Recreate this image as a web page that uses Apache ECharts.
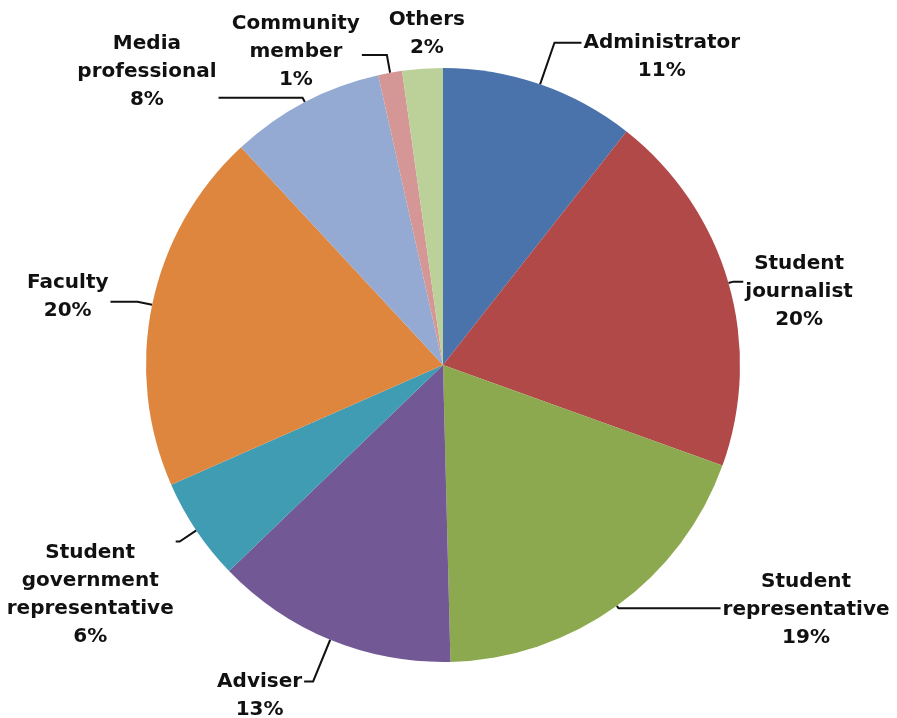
<!DOCTYPE html>
<html>
<head>
<meta charset="utf-8">
<script src="https://cdn.jsdelivr.net/npm/echarts@6/dist/echarts.min.js"></script>
<style>
  html, body { margin: 0; padding: 0; background: #fff; }
  #chart { width: 897px; height: 718px; }
</style>
</head>
<body>
<div id="chart"></div>
<script>
// ---- data ----
const categories = [
  'Administrator',
  'Student\njournalist',
  'Student\nrepresentative',
  'Adviser',
  'Student\ngovernment\nrepresentative',
  'Faculty',
  'Media\nprofessional',
  'Community\nmember',
  'Others'
];
const shares = [10.6, 19.9, 19.1, 13.2, 5.6, 19.7, 8.4, 1.3, 2.2];

// ---- styling (not data) ----
const colors = ['#4A73AC', '#B04947', '#8CA94F', '#725895', '#3F9CB3', '#DE853E', '#94AAD2', '#D49795', '#BBD199'];
// label line lengths and vertical padding per slice
const lineLen  = [44, 5, 3, 45, 20, 15, 5, 18, 37];
const lineLen2 = [27, 10, 102, 9, 4, 27, 84, 25, -47];
const padTop   = [28, 21, 3, 29, 106, 0, 0, 0, 4];
const padBot   = [0, 0, 0, 0, 0, 9, 52, 6, 0];
const showLine = [true, true, true, true, true, true, true, true, false];

const data = shares.map((v, i) => ({
  value: v,
  name: categories[i],
  itemStyle: { color: colors[i] },
  label: { padding: [padTop[i], 0, padBot[i], 0] },
  labelLine: { show: showLine[i], length: lineLen[i], length2: lineLen2[i] }
}));

const chart = echarts.init(document.getElementById('chart'), null, { renderer: 'canvas' });
chart.setOption({
  backgroundColor: '#ffffff',
  animation: false,
  series: [{
    type: 'pie',
    left: 0, top: 0, right: 0, bottom: 0,
    center: [443, 365],
    radius: 297,
    startAngle: 90,
    clockwise: true,
    avoidLabelOverlap: false,
    itemStyle: { borderWidth: 0 },
    label: {
      show: true,
      position: 'outside',
      distanceToLabelLine: 2,
      bleedMargin: 0,
      formatter: function (p) {
        const lines = p.name.split('\n').concat([Math.round(p.percent) + '%']);
        return lines.map(l => '{c|' + l + '}').join('\n');
      },
      rich: {
        c: {
          align: 'center',
          fontFamily: 'DejaVu Sans',
          fontWeight: 'bold',
          fontSize: 20,
          lineHeight: 28,
          color: '#111'
        }
      }
    },
    labelLine: {
      show: true,
      lineStyle: { color: '#111', width: 2 }
    },
    data: data
  }]
});
</script>
</body>
</html>
